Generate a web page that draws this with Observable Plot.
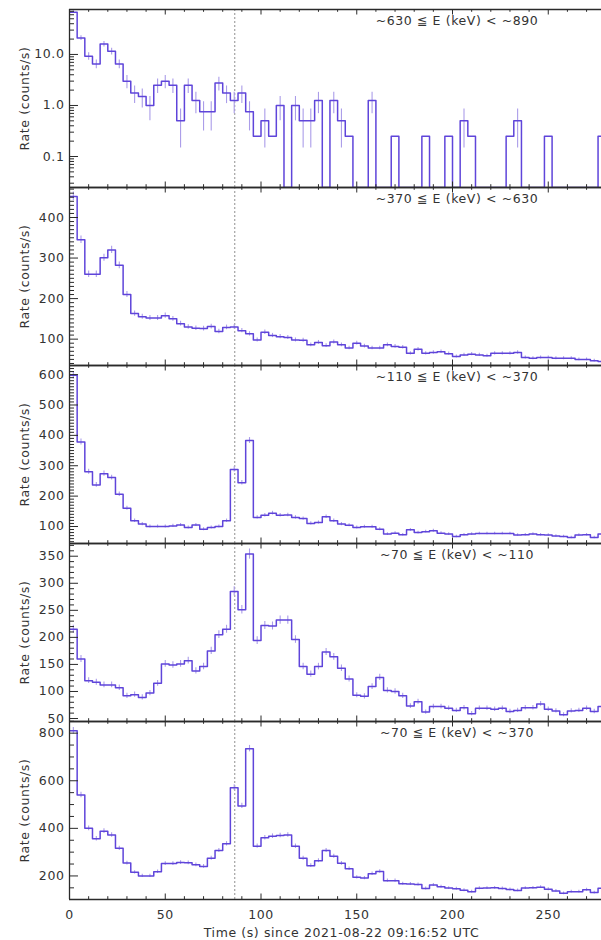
<!DOCTYPE html>
<html><head><meta charset="utf-8">
<script src="https://cdn.jsdelivr.net/npm/d3@7"></script>
<script src="https://cdn.jsdelivr.net/npm/@observablehq/plot@0.6"></script>
<style>
html,body{margin:0;padding:0;background:#fff;overflow:hidden;}
#chart{width:601px;height:940px;}
#chart svg{display:block;overflow:visible;}
</style></head><body><div id="chart"></div>
<script>
// ---- data (4 s bins starting at T0) ----
const binWidth = 4;
const triggerTime = 86.3;
const xTickMajor = [0, 50, 100, 150, 200, 250];
const xTitle = "Time (s) since 2021-08-22 09:16:52 UTC";
const yTitle = "Rate (counts/s)";

const label630_890 = "~630 ≦ E (keV) < ~890";
const rate630_890 = [67.5, 21, 9.25, 6.5, 16, 11.5, 6.5, 3, 1.75, 1.5,
  1, 2.5, 3, 2.5, 0.5, 2.5, 1.25, 0.75, 0.75, 2.75,
  1.75, 1.25, 1.75, 0.75, 0.25, 0.5, 0.25, 1, 0, 1,
  0.5, 0.5, 1.25, 0, 1.25, 0.5, 0.25, 0, 0, 1.25,
  0, 0, 0.25, 0, 0, 0, 0.25, 0, 0, 0.25,
  0, 0.5, 0.25, 0, 0, 0, 0, 0.25, 0.5, 0,
  0, 0, 0.25, 0, 0, 0, 0, 0, 0, 0.25];
const ticks630_890 = [0.1, 1, 10];

const label370_630 = "~370 ≦ E (keV) < ~630";
const rate370_630 = [452, 345, 260, 260, 301, 320, 282, 210, 163, 155,
  152, 152, 158, 150, 138, 130, 127, 126, 131, 119,
  129, 130, 121, 113, 98, 117, 109, 106, 104, 98,
  97, 86, 92, 84, 93, 86, 78, 90, 83, 78,
  78, 86, 82, 80, 65, 75, 65, 67, 69, 64,
  57, 61, 63, 61, 59, 65, 65, 65, 67, 55,
  53, 55, 55, 53, 53, 53, 50, 50, 47, 45];
const ticks370_630 = [100, 200, 300, 400];

const label110_370 = "~110 ≦ E (keV) < ~370";
const rate110_370 = [598, 378, 280, 237, 274, 261, 206, 160, 119, 108,
  100, 100, 100, 102, 105, 97, 105, 91, 97, 100,
  119, 288, 244, 383, 130, 137, 144, 137, 138, 130,
  126, 110, 113, 132, 119, 108, 104, 97, 99, 99,
  91, 75, 78, 73, 89, 80, 83, 86, 78, 75,
  67, 73, 75, 77, 77, 77, 77, 77, 72, 73,
  75, 73, 72, 69, 67, 64, 72, 73, 64, 75];
const ticks110_370 = [100, 200, 300, 400, 500, 600];

const label70_110 = "~70 ≦ E (keV) < ~110";
const rate70_110 = [215, 160, 120, 117, 112, 112, 107, 92, 94, 89,
  97, 115, 151, 149, 151, 157, 138, 146, 175, 205,
  215, 285, 251, 354, 194, 222, 221, 232, 232, 196,
  146, 132, 146, 173, 164, 143, 123, 93, 91, 109,
  126, 102, 100, 92, 73, 81, 62, 72, 72, 69,
  65, 70, 59, 69, 69, 67, 69, 63, 65, 70,
  70, 77, 67, 64, 57, 64, 65, 69, 63, 72];
const ticks70_110 = [50, 100, 150, 200, 250, 300, 350];

const label70_370 = "~70 ≦ E (keV) < ~370";
const rate70_370 = [810, 540, 400, 356, 388, 372, 316, 254, 215, 200,
  200, 218, 252, 252, 256, 255, 247, 240, 274, 307,
  335, 571, 494, 735, 325, 360, 367, 370, 372, 325,
  274, 243, 264, 307, 283, 253, 230, 194, 191, 209,
  219, 180, 180, 167, 166, 164, 147, 162, 155, 149,
  146, 140, 134, 148, 149, 150, 147, 143, 139, 149,
  150, 153, 144, 137, 127, 134, 134, 142, 130, 148];
const ticks70_370 = [200, 400, 600, 800];

// ---- styling / layout ----
const lineColor = "#5f45da";
const errColor = "#ab9de9";
const axisColor = "#2a2a2a";
const textColor = "#333";
const W = 601, ML = 69, PH = 178;
const plotW = W - ML;
const xDomain = [0, 277.8];

function range(a, b, s) { const r = []; for (let v = a; v <= b + 1e-9; v += s) r.push(+v.toFixed(6)); return r; }
const xTickMinor = range(0, 270, 10).filter(v => v % 50 !== 0);

function logMinor(lo, hi) {
  const r = [];
  for (let d = 0.01; d <= 100; d *= 10) for (let m = 2; m <= 9; m++) { const v = +(m * d).toPrecision(3); if (v >= lo && v <= hi) r.push(v); }
  return r;
}

const panels = [
  {label: label630_890, rate: rate630_890, type: "log", domain: [0.0247, 76], major: ticks630_890, minor: logMinor(0.0247, 76), fmt: d3.format(".1f")},
  {label: label370_630, rate: rate370_630, type: "linear", domain: [35, 474], major: ticks370_630, minor: range(40, 470, 10).filter(v => v % 100 !== 0), fmt: d3.format("d")},
  {label: label110_370, rate: rate110_370, type: "linear", domain: [44, 630], major: ticks110_370, minor: range(50, 630, 10).filter(v => v % 100 !== 0), fmt: d3.format("d")},
  {label: label70_110, rate: rate70_110, type: "linear", domain: [44.5, 373.5], major: ticks70_110, minor: range(50, 370, 10).filter(v => v % 50 !== 0), fmt: d3.format("d")},
  {label: label70_370, rate: rate70_370, type: "linear", domain: [101, 849], major: ticks70_370, minor: range(150, 850, 50).filter(v => v % 200 !== 0), fmt: d3.format("d")}
];

const chart = document.getElementById("chart");

panels.forEach((p, k) => {
  const first = k === 0, last = k === panels.length - 1;
  const mt = first ? 9 : 0, mb = last ? 41 : 0;
  const floor = p.domain[0];
  const bins = p.rate.map((v, i) => {
    // Poisson uncertainty of a rate measured over one bin
    const e = Math.sqrt(v * binWidth) / binWidth;
    return {t: i * binWidth, tc: i * binWidth + binWidth / 2, v, lo: v - e, hi: v + e};
  });
  const steps = bins.map(d => ({t: d.t, v: d.v}));
  steps.push({t: bins.length * binWidth, v: p.rate[p.rate.length - 1]});

  const marks = [
    Plot.ruleX([triggerTime], {stroke: "#8f8f8f", strokeDasharray: "2,2", strokeWidth: 1}),
    Plot.ruleX(bins.filter(d => d.lo > 0), {x: "tc", y1: "lo", y2: "hi", stroke: errColor, strokeWidth: 1.1}),
    Plot.line(steps, {x: "t", y: d => Math.max(d.v, floor), curve: "step-after", stroke: lineColor, strokeWidth: 1.5, clip: true}),
    // frame (left, top, bottom)
    Plot.ruleX([0], {stroke: axisColor, strokeWidth: 1.3}),
    Plot.ruleY(p.domain, {stroke: axisColor, strokeWidth: 1.3}),
    // y ticks (inward)
    Plot.tickY(p.major, {stroke: axisColor, strokeWidth: 1, insetRight: plotW - 9}),
    Plot.tickY(p.minor, {stroke: axisColor, strokeWidth: 1, insetRight: plotW - 5}),
    // x ticks top & bottom (inward)
    Plot.tickX(xTickMajor, {stroke: axisColor, strokeWidth: 1, insetBottom: PH - 5.5}),
    Plot.tickX(xTickMinor, {stroke: axisColor, strokeWidth: 1, insetBottom: PH - 2.8}),
    Plot.tickX(xTickMajor, {stroke: axisColor, strokeWidth: 1, insetTop: PH - 5.5}),
    Plot.tickX(xTickMinor, {stroke: axisColor, strokeWidth: 1, insetTop: PH - 2.8}),
    Plot.axisY(p.major, {anchor: "left", tickSize: 0, tickPadding: 5, tickFormat: p.fmt, label: null, fill: textColor}),
    Plot.text([p.label], {text: d => d, frameAnchor: "top", textAnchor: "middle", dx: 121.5, dy: 11.5, lineAnchor: "middle", fill: textColor}),
    Plot.text([yTitle], {text: d => d, frameAnchor: "left", textAnchor: "middle", lineAnchor: "middle", dx: -45, rotate: -90, fill: textColor})
  ];
  if (last) {
    marks.push(Plot.axisX(xTickMajor, {anchor: "bottom", tickSize: 0, tickPadding: 11, label: null, fill: textColor}));
    marks.push(Plot.text([xTitle], {text: d => d, frameAnchor: "bottom", textAnchor: "middle", dx: 6, dy: 33, lineAnchor: "middle", fill: textColor}));
  }

  const svg = Plot.plot({
    width: W,
    height: PH + mt + mb,
    marginLeft: ML, marginRight: 0, marginTop: mt, marginBottom: mb,
    style: {fontFamily: "'DejaVu Sans', sans-serif", fontSize: "12.5px", letterSpacing: "0.6px", overflow: "visible", background: "transparent"},
    x: {domain: xDomain, axis: last ? undefined : null},
    y: {type: p.type, domain: p.domain},
    marks
  });
  chart.appendChild(svg);
});
</script>
</body></html>
